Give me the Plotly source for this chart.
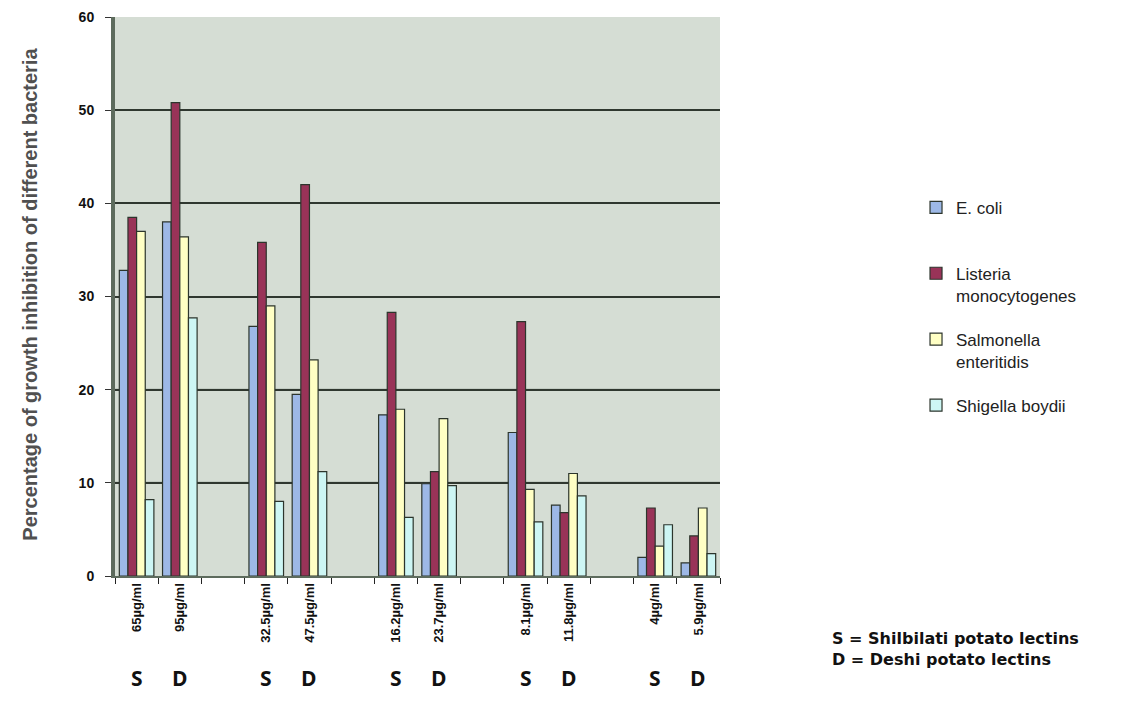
import plotly.graph_objects as go

categories = ["65µg/ml", "95µg/ml", " ", "32.5µg/ml", "47.5µg/ml", "  ",
              "16.2µg/ml", "23.7µg/ml", "   ", "8.1µg/ml", "11.8µg/ml", "    ",
              "4µg/ml", "5.9µg/ml"]
lectin_type = ["S", "D", "", "S", "D", "", "S", "D", "", "S", "D", "", "S", "D"]

e_coli = [32.8, 38.0, None, 26.8, 19.5, None, 17.3, 9.9, None, 15.4, 7.6, None, 2.0, 1.4]
listeria = [38.5, 50.8, None, 35.8, 42.0, None, 28.3, 11.2, None, 27.3, 6.8, None, 7.3, 4.3]
salmonella = [37.0, 36.4, None, 29.0, 23.2, None, 17.9, 16.9, None, 9.3, 11.0, None, 3.2, 7.3]
shigella = [8.2, 27.7, None, 8.0, 11.2, None, 6.3, 9.7, None, 5.8, 8.6, None, 5.5, 2.4]

series = [
    ("E. coli", e_coli, "#9DB8E6", "legend", 0.691),
    ("Listeria<br>monocytogenes", listeria, "#993358", "legend2", 0.573),
    ("Salmonella<br>enteritidis", salmonella, "#FFFFC4", "legend3", 0.455),
    ("Shigella boydii", shigella, "#CDF6F4", "legend4", 0.337),
]

fig = go.Figure()
for name, vals, color, lg, _ in series:
    fig.add_trace(go.Bar(
        x=categories, y=vals, name=name, legend=lg, showlegend=True,
        marker=dict(color=color, line=dict(color="#2c352c", width=1.2)),
    ))

legend_font = dict(family="Arial, Liberation Sans", size=17, color="#222222")
legend_layout = {}
for name, vals, color, lg, ypos in series:
    legend_layout[lg] = dict(
        x=1.324, xanchor="left", y=ypos, yanchor="top",
        bgcolor="rgba(0,0,0,0)", font=legend_font, valign="top",
        itemwidth=30, tracegroupgap=0, visible=True,
    )

annotations = []
for cat, t in zip(categories, lectin_type):
    if t:
        annotations.append(dict(
            x=cat, xref="x", y=-0.182, yref="paper", text="<b>" + t + "</b>",
            showarrow=False,
            font=dict(family="Open Sans", size=21, color="#111111"),
            xanchor="center", yanchor="middle",
        ))
annotations.append(dict(
    x=1.182, xref="paper", y=-0.131, yref="paper",
    text="<b>S = Shilbilati potato lectins</b><br><b>D = Deshi potato lectins</b>",
    showarrow=False, align="left", xanchor="left", yanchor="middle",
    font=dict(family="DejaVu Sans", size=16, color="#111111"),
))
annotations.append(dict(
    x=-0.1405, xref="paper", y=0.505, yref="paper",
    text="<b>Percentage of growth inhibition of different bacteria</b>",
    textangle=-90, showarrow=False, xanchor="center", yanchor="middle",
    font=dict(family="Liberation Sans, Arial", size=20, color="#505050"),
))

shapes = []
for yv in [10, 20]:
    shapes.append(dict(type="line", xref="paper", x0=0, x1=1, yref="y", y0=yv, y1=yv,
                       line=dict(color="#8a968a", width=2), layer="between"))

fig.update_layout(
    width=1123, height=693,
    margin=dict(l=107, r=411, t=9, b=125, autoexpand=False),
    showlegend=True,
    paper_bgcolor="white",
    plot_bgcolor="#D5DDD4",
    barmode="group", bargap=0.2, bargroupgap=0.0,
    annotations=annotations,
    shapes=shapes,
    xaxis=dict(
        type="category", categoryorder="array", categoryarray=categories,
        tickson="boundaries", ticks="outside", ticklen=6, tickcolor="#222",
        tickangle=-90, showline=True, linecolor="#5d6b5d", linewidth=2,
        tickfont=dict(family="Arial, Liberation Sans", size=13, color="#111", weight="bold"),
        showgrid=False, mirror=False, automargin=False,
    ),
    yaxis=dict(
        range=[0, 60], dtick=10, ticks="outside", ticklen=6, tickcolor="#333",
        showline=True, linecolor="#5d6b5d", linewidth=4,
        gridcolor="#2f372f", gridwidth=1.5, ticklabelstandoff=8,
        tickfont=dict(family="Arial, Liberation Sans", size=14, color="#111", weight="bold"),
        zeroline=False, automargin=False,
    ),
    **legend_layout,
)

fig.write_html("out.html")
